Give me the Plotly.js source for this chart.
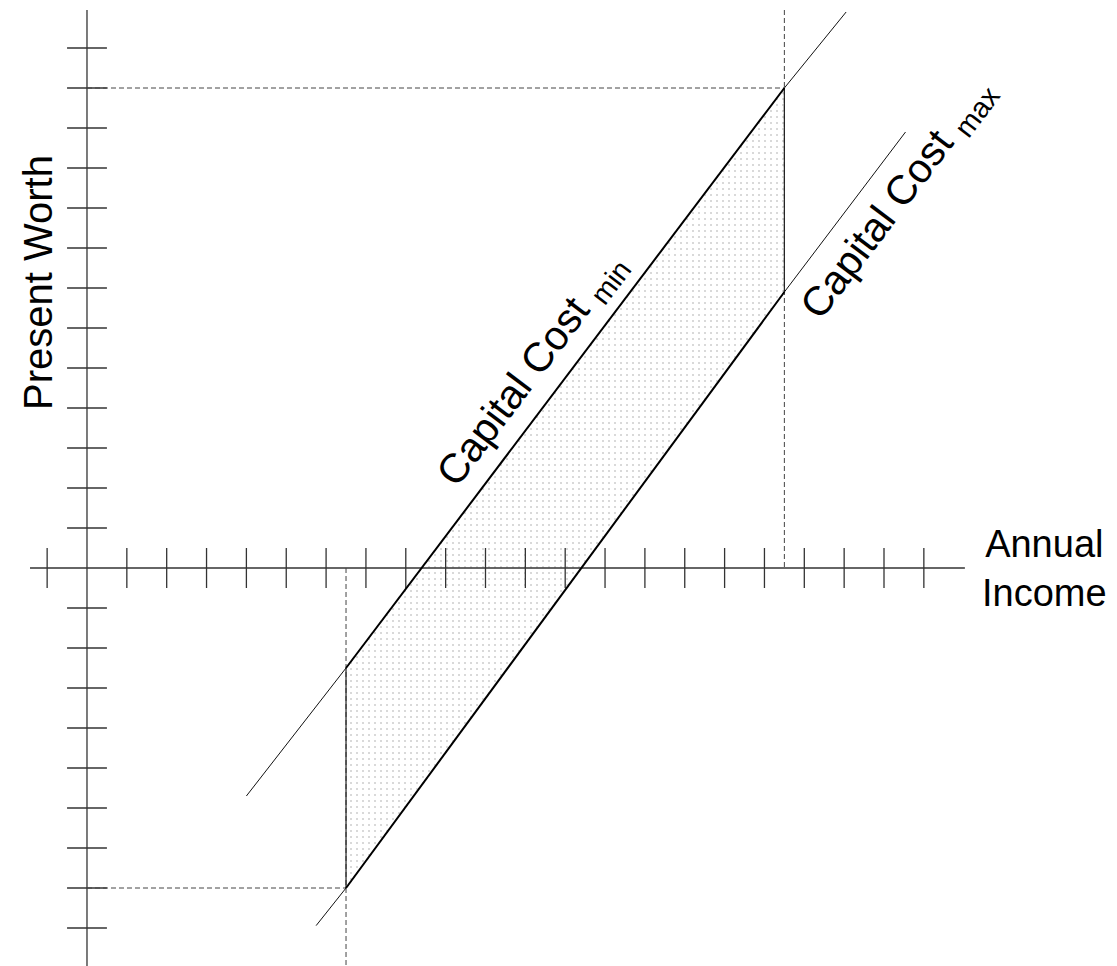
<!DOCTYPE html>
<html>
<head>
<meta charset="utf-8">
<script src="https://cdn.plot.ly/plotly-3.0.1.min.js"></script>
<style>html,body{margin:0;padding:0;background:#fff;}#chart{width:1117px;height:966px;}</style>
</head>
<body>
<div id="chart"></div>
<script>
// ---- data (axis units = tick spacing) ----
const xTicks = [-1,1,2,3,4,5,6,7,8,9,10,11,12,13,14,15,16,17,18,19,20,21];
const yTicks = [-9,-8,-7,-6,-5,-4,-3,-2,-1,1,2,3,4,5,6,7,8,9,10,11,12,13];
const xAxisExtent = [-1.43, 22.03];
const yAxisExtent = [-9.95, 13.95];

// Capital Cost min line (start, left bound, right bound, end)
const minX = [4.0, 6.5, 17.5, 19.05];
const minY = [-5.7, -2.5, 12.0, 13.9];
// Capital Cost max line
const maxX = [5.75, 6.5, 17.5, 20.54];
const maxY = [-8.94, -8.0, 6.9, 10.9];

// income bounds (dashed verticals) and present-worth bounds (dashed horizontals)
const incomeLow = 6.5, incomeHigh = 17.5;
const worthLow = -8.0, worthHigh = 12.0;

const labelFont = 'Liberation Sans, Arial, Helvetica, sans-serif';

// ---- build traces ----
const traces = [];

// shaded region between the two lines, between the income bounds
traces.push({
  x: [minX[1], minX[2], maxX[2], maxX[1], minX[1]],
  y: [minY[1], minY[2], maxY[2], maxY[1], minY[1]],
  mode: 'lines', fill: 'toself',
  fillcolor: 'rgba(242,242,242,0.7)',
  fillpattern: {shape: '.', size: 6, solidity: 0.06, fgcolor: '#a8a8a8', bgcolor: 'rgba(0,0,0,0)'},
  line: {width: 0}, hoverinfo: 'skip', showlegend: false
});

// axis lines
traces.push({x: xAxisExtent, y: [0, 0], mode: 'lines', line: {color: '#333', width: 1.3}, hoverinfo: 'skip'});
traces.push({x: [0, 0], y: yAxisExtent, mode: 'lines', line: {color: '#333', width: 1.3}, hoverinfo: 'skip'});

// tick marks crossing the axes
const tickHalf = 0.5;
const txs = [], tys = [];
xTicks.forEach(t => { txs.push(t, t, null); tys.push(-tickHalf, tickHalf, null); });
yTicks.forEach(t => { txs.push(-tickHalf, tickHalf, null); tys.push(t, t, null); });
traces.push({x: txs, y: tys, mode: 'lines', line: {color: '#333', width: 1.3}, hoverinfo: 'skip'});

// dashed guide lines
const dash = {color: '#444', width: 1, dash: '5px,3px'};
traces.push({x: [0, incomeHigh], y: [worthHigh, worthHigh], mode: 'lines', line: dash, hoverinfo: 'skip'});
traces.push({x: [0, incomeLow], y: [worthLow, worthLow], mode: 'lines', line: dash, hoverinfo: 'skip'});
traces.push({x: [incomeLow, incomeLow], y: [0, yAxisExtent[0]], mode: 'lines', line: dash, hoverinfo: 'skip'});
traces.push({x: [incomeHigh, incomeHigh], y: [yAxisExtent[1], 0], mode: 'lines', line: dash, hoverinfo: 'skip'});

// solid vertical bounds of the shaded area
traces.push({x: [minX[1], maxX[1]], y: [minY[1], maxY[1]], mode: 'lines', line: {color: '#222', width: 1.2}, hoverinfo: 'skip'});
traces.push({x: [minX[2], maxX[2]], y: [minY[2], maxY[2]], mode: 'lines', line: {color: '#222', width: 1.2}, hoverinfo: 'skip'});

// thin full lines
traces.push({x: minX, y: minY, mode: 'lines', line: {color: '#111', width: 1}, hoverinfo: 'skip'});
traces.push({x: maxX, y: maxY, mode: 'lines', line: {color: '#111', width: 1}, hoverinfo: 'skip'});
// thick middle portions
traces.push({x: minX.slice(1, 3), y: minY.slice(1, 3), mode: 'lines', line: {color: '#000', width: 2}, hoverinfo: 'skip'});
traces.push({x: maxX.slice(1, 3), y: maxY.slice(1, 3), mode: 'lines', line: {color: '#000', width: 2}, hoverinfo: 'skip'});

const layout = {
  width: 1117, height: 966,
  margin: {l: 0, r: 0, t: 0, b: 0},
  paper_bgcolor: '#fff', plot_bgcolor: '#fff',
  showlegend: false,
  xaxis: {range: [-2.183, 25.847], visible: false, fixedrange: true},
  yaxis: {range: [-9.95, 14.2], visible: false, fixedrange: true},
  font: {family: labelFont, color: '#000'},
  annotations: [
    {x: -1.23, y: 7.15, xref: 'x', yref: 'y', text: 'Present Worth', showarrow: false,
     textangle: -90, font: {size: 40, family: labelFont, color: '#000'}},
    {x: 24.04, y: 0, xref: 'x', yref: 'y', text: 'Annual<br>Income', showarrow: false,
     align: 'center', font: {size: 38, family: labelFont, color: '#000'}},
    {x: 11.18, y: 4.95, xref: 'x', yref: 'y', text: 'Capital Cost&nbsp;<sub>min</sub>', showarrow: false,
     textangle: -53, font: {size: 41, family: labelFont, color: '#000'}},
    {x: 20.38, y: 9.22, xref: 'x', yref: 'y', text: 'Capital Cost&nbsp;<sub>max</sub>', showarrow: false,
     textangle: -53, font: {size: 41, family: labelFont, color: '#000'}}
  ]
};

Plotly.newPlot('chart', traces, layout, {staticPlot: true, displayModeBar: false});
</script>
</body>
</html>
